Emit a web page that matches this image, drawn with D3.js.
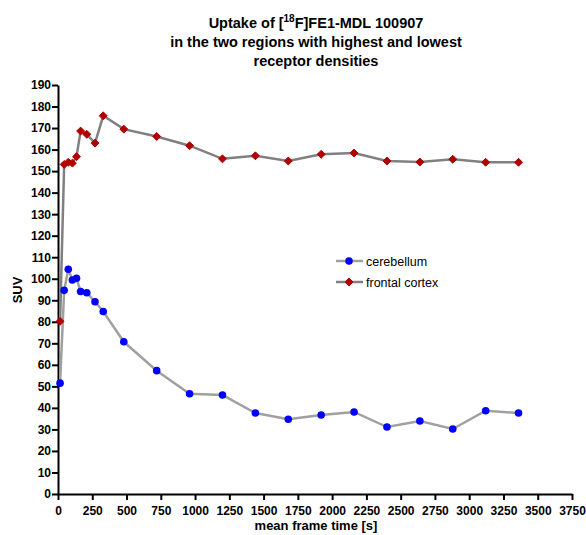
<html>
<head>
<script src="https://cdn.jsdelivr.net/npm/d3@7"></script>
<style>
  body { margin: 0; background: #fff; }
  svg text { font-family: "Liberation Sans", Arial, sans-serif; }
  .axis text { font-size: 12px; font-weight: bold; fill: #000; }
  .axis path, .axis line { stroke: #000; stroke-width: 2px; }
</style>
</head>
<body>
<svg id="chart" width="586" height="535"></svg>
<script>
// frame mid times (s)
var times = [15, 45, 75, 105, 135, 165, 210, 270, 330, 480, 720, 960, 1200, 1440,
             1680, 1920, 2160, 2400, 2640, 2880, 3120, 3360];
var cerebellum = [51.5, 94.6, 104.4, 99.4, 100.2, 94.1, 93.5, 89.3, 84.8, 70.7, 57.3,
                  46.6, 46.0, 37.6, 34.7, 36.7, 38.1, 31.1, 33.9, 30.2, 38.7, 37.6];
var frontal = [80.2, 153.1, 154.1, 153.7, 156.7, 168.6, 167.1, 163.0, 175.7, 169.5, 166.1,
               161.8, 155.7, 157.1, 154.7, 157.8, 158.4, 154.7, 154.2, 155.5, 154.1, 154.1];
var xTicks = d3.range(0, 3751, 250);
var yTicks = d3.range(0, 191, 10);

var svg = d3.select("#chart");
var mLeft = 58, mRight = 572, mTop = 85, mBottom = 494;

var x = d3.scaleLinear().domain([0, 3750]).range([mLeft, mRight]);
var y = d3.scaleLinear().domain([0, 190]).range([mBottom, mTop]);

svg.append("g").attr("class", "axis")
  .attr("transform", "translate(0," + mBottom + ")")
  .call(d3.axisBottom(x).tickValues(xTicks).tickFormat(d3.format("d"))
    .tickSize(6).tickPadding(6).tickSizeOuter(0));

svg.append("g").attr("class", "axis")
  .attr("transform", "translate(" + mLeft + ",0)")
  .call(d3.axisLeft(y).tickValues(yTicks).tickFormat(d3.format("d"))
    .tickSize(6).tickPadding(1).tickSizeOuter(0));

var line = d3.line().x(function (d) { return x(d[0]); }).y(function (d) { return y(d[1]); });
var blueData = times.map(function (t, i) { return [t, cerebellum[i]]; });
var redData = times.map(function (t, i) { return [t, frontal[i]]; });

svg.append("path").datum(blueData).attr("d", line)
  .attr("fill", "none").attr("stroke", "#a0a0a0").attr("stroke-width", 2.5);
svg.append("path").datum(redData).attr("d", line)
  .attr("fill", "none").attr("stroke", "#808080").attr("stroke-width", 2.5);

var diamond = d3.symbol().type(d3.symbolDiamond2).size(40);

svg.selectAll(".red").data(redData).enter().append("path")
  .attr("class", "red")
  .attr("transform", function (d) { return "translate(" + x(d[0]) + "," + y(d[1]) + ")"; })
  .attr("d", diamond).attr("fill", "#b00000").attr("stroke", "#b00000").attr("stroke-width", 1);

svg.selectAll(".blue").data(blueData).enter().append("circle")
  .attr("class", "blue")
  .attr("cx", function (d) { return x(d[0]); })
  .attr("cy", function (d) { return y(d[1]); })
  .attr("r", 3.8).attr("fill", "#0000ff");

// title
var title = svg.append("text").attr("text-anchor", "middle")
  .attr("font-size", 14.5).attr("font-weight", "bold");
var t1 = title.append("tspan").attr("x", 316).attr("y", 28);
t1.append("tspan").text("Uptake of [");
t1.append("tspan").attr("font-size", 10).attr("dy", -6).text("18");
t1.append("tspan").attr("dy", 6).text("F]FE1-MDL 100907");
title.append("tspan").attr("x", 316).attr("y", 47).text("in the two regions with highest and lowest");
title.append("tspan").attr("x", 316).attr("y", 66).text("receptor densities");

// axis titles
svg.append("text").attr("x", 316).attr("y", 530).attr("text-anchor", "middle")
  .attr("font-size", 13).attr("font-weight", "bold").text("mean frame time [s]");
svg.append("text").attr("transform", "translate(22,290) rotate(-90)")
  .attr("text-anchor", "middle").attr("font-size", 13).attr("font-weight", "bold").text("SUV");

// legend
var legend = [
  { name: "cerebellum", stroke: "#a0a0a0", color: "#0000ff", shape: "circle" },
  { name: "frontal cortex", stroke: "#808080", color: "#b00000", shape: "diamond" }
];
legend.forEach(function (l, i) {
  var ly = 261 + i * 21;
  svg.append("line").attr("x1", 336).attr("x2", 363).attr("y1", ly).attr("y2", ly)
    .attr("stroke", l.stroke).attr("stroke-width", 2.5);
  if (l.shape === "circle") {
    svg.append("circle").attr("cx", 349).attr("cy", ly).attr("r", 3.8).attr("fill", l.color);
  } else {
    svg.append("path").attr("transform", "translate(349," + ly + ")").attr("d", diamond)
      .attr("fill", l.color).attr("stroke", l.color);
  }
  svg.append("text").attr("x", 366).attr("y", ly + 4.5).attr("font-size", 12.5).text(l.name);
});
</script>
</body>
</html>
